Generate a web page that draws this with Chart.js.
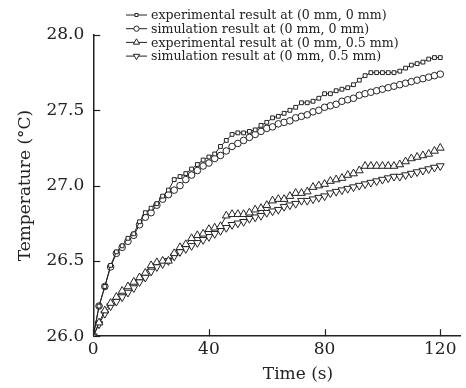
<!DOCTYPE html>
<html>
<head>
<meta charset="utf-8">
<script src="https://cdn.jsdelivr.net/npm/chart.js@4.4.1/dist/chart.umd.min.js"></script>
<style>
  html, body { margin: 0; padding: 0; background: #fff; }
  #wrap { width: 466px; height: 388px; }
</style>
</head>
<body>
<div id="wrap"><canvas id="tempChart" width="466" height="388"></canvas></div>
<script>
// =====================================
// DATA
// =====================================
const timeSec = [0, 2, 4, 6, 8, 10, 12, 14, 16, 18, 20, 22, 24, 26, 28, 30, 32, 34, 36, 38,
  40, 42, 44, 46, 48, 50, 52, 54, 56, 58, 60, 62, 64, 66, 68, 70, 72, 74, 76, 78,
  80, 82, 84, 86, 88, 90, 92, 94, 96, 98, 100, 102, 104, 106, 108, 110, 112, 114, 116, 118, 120];

const expCenter = [26.0, 26.2, 26.33, 26.47, 26.56, 26.6, 26.65, 26.68, 26.76, 26.82,
  26.85, 26.88, 26.93, 26.97, 27.04, 27.06, 27.08, 27.11, 27.14, 27.17,
  27.19, 27.21, 27.26, 27.3, 27.34, 27.35, 27.35, 27.36, 27.37, 27.4,
  27.42, 27.45, 27.46, 27.48, 27.5, 27.52, 27.55, 27.55, 27.56, 27.58,
  27.61, 27.61, 27.63, 27.64, 27.65, 27.67, 27.7, 27.73, 27.75, 27.75,
  27.75, 27.75, 27.75, 27.76, 27.78, 27.8, 27.81, 27.82, 27.84, 27.85, 27.85];

const simCenter = [26.0, 26.2, 26.33, 26.46, 26.55, 26.59, 26.63, 26.67, 26.74, 26.79,
  26.82, 26.87, 26.91, 26.94, 26.97, 27.0, 27.04, 27.07, 27.1, 27.13,
  27.15, 27.18, 27.2, 27.23, 27.26, 27.28, 27.3, 27.32, 27.34, 27.36,
  27.38, 27.39, 27.41, 27.42, 27.43, 27.45, 27.46, 27.47, 27.49, 27.5,
  27.52, 27.53, 27.54, 27.56, 27.57, 27.58, 27.6, 27.61, 27.62, 27.63,
  27.64, 27.65, 27.66, 27.67, 27.68, 27.69, 27.7, 27.71, 27.72, 27.73, 27.74];

const expOffset = [26.0, 26.09, 26.17, 26.22, 26.26, 26.3, 26.33, 26.36, 26.39, 26.42,
  26.47, 26.49, 26.5, 26.5, 26.55, 26.59, 26.61, 26.65, 26.67, 26.68,
  26.71, 26.72, 26.73, 26.8, 26.81, 26.81, 26.81, 26.82, 26.84, 26.85,
  26.87, 26.9, 26.91, 26.91, 26.93, 26.95, 26.95, 26.96, 26.99, 27.0,
  27.01, 27.03, 27.04, 27.05, 27.07, 27.08, 27.1, 27.13, 27.13, 27.13,
  27.13, 27.13, 27.13, 27.14, 27.16, 27.18, 27.19, 27.2, 27.21, 27.23, 27.25];

const simOffset = [26.0, 26.08, 26.15, 26.2, 26.23, 26.26, 26.29, 26.32, 26.36, 26.39,
  26.43, 26.46, 26.48, 26.5, 26.53, 26.56, 26.58, 26.6, 26.62, 26.64,
  26.66, 26.68, 26.7, 26.72, 26.74, 26.75, 26.76, 26.78, 26.79, 26.8,
  26.82, 26.83, 26.84, 26.86, 26.87, 26.88, 26.9, 26.9, 26.91, 26.92,
  26.93, 26.95, 26.96, 26.97, 26.98, 26.99, 27.0, 27.01, 27.02, 27.03,
  27.04, 27.05, 27.06, 27.06, 27.07, 27.08, 27.09, 27.1, 27.11, 27.12, 27.13];

const seriesLabels = [
  "experimental result at (0 mm, 0 mm)",
  "simulation result at (0 mm, 0 mm)",
  "experimental result at (0 mm, 0.5 mm)",
  "simulation result at (0 mm, 0.5 mm)"
];

const xTicks = [0, 40, 80, 120];
const yTicks = [26.0, 26.5, 27.0, 27.5, 28.0];

const SERIF = "'DejaVu Serif', 'Liberation Serif', serif";

function toPoints(values) {
  return values.map((v, i) => ({ x: timeSec[i], y: v }));
}

function makeSet(label, values, style, radius, rotation) {
  return {
    label: label,
    data: toPoints(values),
    borderColor: "#222",
    borderWidth: 1,
    backgroundColor: "#fff",
    pointStyle: style,
    pointRadius: radius,
    pointRotation: rotation,
    pointBorderColor: "#222",
    pointBackgroundColor: "#fff",
    pointBorderWidth: 1,
    tension: 0,
    fill: false
  };
}

// =====================================
// AXIS DECORATION + LEGEND PLUGIN
// =====================================
const decorPlugin = {
  id: "decor",
  afterDraw(chart) {
    const ctx = chart.ctx;
    const xs = chart.scales.x;
    const ys = chart.scales.y;
    const area = chart.chartArea;

    ctx.save();
    ctx.strokeStyle = "#222";
    ctx.lineWidth = 1.2;
    // inward ticks
    xTicks.forEach(v => {
      const px = Math.round(xs.getPixelForValue(v)) + 0.5;
      ctx.beginPath();
      ctx.moveTo(px, area.bottom);
      ctx.lineTo(px, area.bottom - 7);
      ctx.stroke();
    });
    yTicks.forEach(v => {
      const py = Math.round(ys.getPixelForValue(v)) + 0.5;
      ctx.beginPath();
      ctx.moveTo(area.left, py);
      ctx.lineTo(area.left + 7, py);
      ctx.stroke();
    });

    // x title
    ctx.fillStyle = "#222";
    ctx.font = "17px " + SERIF;
    ctx.textAlign = "center";
    ctx.textBaseline = "middle";
    ctx.fillText("Time (s)", 298, 375);

    // legend
    ctx.font = "12.6px " + SERIF;
    ctx.textAlign = "left";
    chart.data.datasets.forEach((ds, i) => {
      const y = 15 + i * 13.7;
      ctx.lineWidth = 1;
      ctx.strokeStyle = "#222";
      ctx.beginPath();
      ctx.moveTo(126, y);
      ctx.lineTo(147, y);
      ctx.stroke();
      ctx.fillStyle = "#fff";
      Chart.helpers.drawPoint(ctx, {
        pointStyle: ds.pointStyle,
        rotation: ds.pointRotation,
        radius: ds.pointRadius * 0.8,
        borderWidth: 1
      }, 136.5, y);
      ctx.fillStyle = "#222";
      ctx.fillText(ds.label, 151, y + 1);
    });
    ctx.restore();
  }
};

// =====================================
// CHART
// =====================================
new Chart(document.getElementById("tempChart"), {
  type: "line",
  data: {
    datasets: [
      makeSet(seriesLabels[0], expCenter, "rect", 2.7, 0),
      makeSet(seriesLabels[1], simCenter, "circle", 3.3, 0),
      makeSet(seriesLabels[2], expOffset, "triangle", 4.5, 0),
      makeSet(seriesLabels[3], simOffset, "triangle", 4.5, 180)
    ]
  },
  options: {
    responsive: false,
    animation: false,
    layout: { padding: { left: 15, right: 4, top: 35, bottom: 0 } },
    plugins: {
      legend: { display: false },
      tooltip: { enabled: false }
    },
    scales: {
      x: {
        type: "linear",
        min: 0,
        max: 127,
        afterBuildTicks: axis => { axis.ticks = xTicks.map(v => ({ value: v })); },
        grid: { display: false, drawTicks: false },
        border: { display: true, color: "#222", width: 1.5 },
        ticks: {
          color: "#222",
          padding: 3,
          maxRotation: 0,
          font: { family: SERIF, size: 17 },
          callback: v => v
        },
        title: { display: true, text: " ", font: { size: 17 }, padding: { top: 2, bottom: 3 } }
      },
      y: {
        min: 26.0,
        max: 28.0,
        afterBuildTicks: axis => { axis.ticks = yTicks.map(v => ({ value: v })); },
        grid: { display: false, drawTicks: false },
        border: { display: true, color: "#222", width: 1.5 },
        ticks: {
          color: "#222",
          padding: 9,
          font: { family: SERIF, size: 17 },
          callback: v => v.toFixed(1)
        },
        title: {
          display: true,
          text: "Temperature (°C)",
          color: "#222",
          font: { family: SERIF, size: 17 },
          padding: { top: 0, bottom: 2 }
        }
      }
    }
  },
  plugins: [decorPlugin]
});
</script>
</body>
</html>
